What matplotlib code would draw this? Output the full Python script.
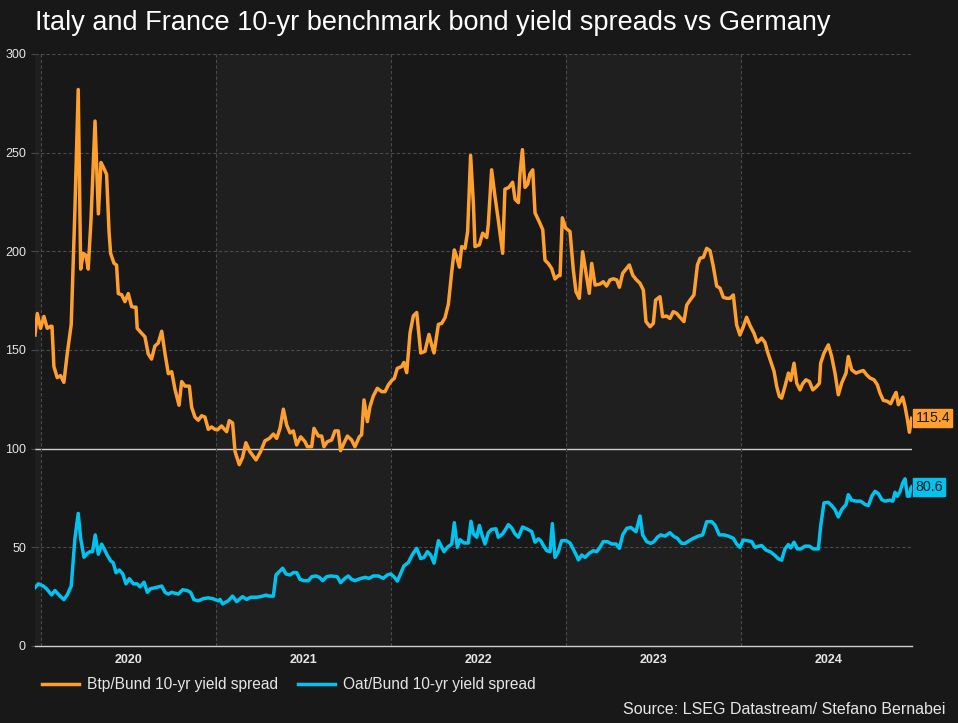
import matplotlib.pyplot as plt

# Colors
bg = "#181818"
band = "#1f1f1f"
orange = "#FF9F2E"
blue = "#00C3F0"
text_color = "#E6E6E6"
grid_color = "#4A4A4A"

# Data (time in decimal years)
btp_t = [2019.966, 2019.979, 2019.998, 2020.017, 2020.036, 2020.055, 2020.063, 2020.074, 2020.093,
         2020.112, 2020.131, 2020.150, 2020.173, 2020.194, 2020.213, 2020.227, 2020.242, 2020.257,
         2020.270, 2020.286, 2020.309, 2020.328, 2020.343, 2020.360, 2020.375, 2020.389, 2020.398,
         2020.417, 2020.432, 2020.442, 2020.461, 2020.480, 2020.499, 2020.518, 2020.531, 2020.543,
         2020.550, 2020.575, 2020.594, 2020.613, 2020.632, 2020.651, 2020.670, 2020.690, 2020.709,
         2020.728, 2020.747, 2020.766, 2020.789, 2020.804, 2020.823, 2020.848, 2020.861, 2020.880,
         2020.899, 2020.918, 2020.937, 2020.956, 2020.975, 2020.994,
         2021.008, 2021.032, 2021.061, 2021.076, 2021.095, 2021.109, 2021.133, 2021.152, 2021.171,
         2021.194, 2021.229, 2021.255, 2021.280, 2021.305, 2021.328, 2021.347, 2021.366, 2021.385,
         2021.404, 2021.423, 2021.442, 2021.461, 2021.484, 2021.509, 2021.522, 2021.547, 2021.560,
         2021.585, 2021.604, 2021.617, 2021.636, 2021.661, 2021.680, 2021.699, 2021.712, 2021.731,
         2021.751, 2021.775, 2021.794, 2021.819, 2021.832, 2021.846, 2021.865, 2021.880, 2021.899,
         2021.922, 2021.947, 2021.966, 2021.985, 2022.004, 2022.019, 2022.036,
         2022.061, 2022.074, 2022.090, 2022.109, 2022.128, 2022.147, 2022.170, 2022.194, 2022.217,
         2022.232, 2022.246, 2022.271, 2022.290, 2022.309, 2022.328, 2022.347, 2022.362, 2022.375,
         2022.391, 2022.404, 2022.423, 2022.438, 2022.455, 2022.471, 2022.480, 2022.505, 2022.524,
         2022.547, 2022.556, 2022.575, 2022.594, 2022.613, 2022.638, 2022.651, 2022.674, 2022.695,
         2022.709, 2022.728, 2022.737, 2022.751, 2022.766, 2022.781, 2022.794, 2022.810, 2022.823,
         2022.846, 2022.867, 2022.880, 2022.899, 2022.918, 2022.937, 2022.956, 2022.966, 2022.979,
         2022.998, 2023.023,
         2023.042, 2023.057, 2023.076, 2023.095, 2023.118, 2023.133, 2023.147, 2023.166, 2023.194,
         2023.213, 2023.232, 2023.251, 2023.271, 2023.290, 2023.305, 2023.324, 2023.347, 2023.362,
         2023.381, 2023.400, 2023.423, 2023.442, 2023.457, 2023.480, 2023.499, 2023.512, 2023.537,
         2023.552, 2023.575, 2023.594, 2023.613, 2023.632, 2023.651, 2023.674, 2023.690, 2023.709,
         2023.731, 2023.751, 2023.766, 2023.785, 2023.804, 2023.823, 2023.842, 2023.861, 2023.880,
         2023.899, 2023.918, 2023.937, 2023.956, 2023.975, 2023.994, 2024.013, 2024.032, 2024.051,
         2024.074, 2024.093,
         2024.118, 2024.137, 2024.151, 2024.170, 2024.189, 2024.204, 2024.219, 2024.232, 2024.251,
         2024.271, 2024.284, 2024.303, 2024.318, 2024.337, 2024.352, 2024.371, 2024.391, 2024.410,
         2024.429, 2024.448, 2024.455, 2024.474, 2024.499, 2024.518, 2024.537, 2024.556, 2024.575,
         2024.600, 2024.613, 2024.632, 2024.657, 2024.680, 2024.699, 2024.718, 2024.737, 2024.760,
         2024.779, 2024.794, 2024.813, 2024.836, 2024.855, 2024.874, 2024.886, 2024.899, 2024.924,
         2024.937, 2024.951, 2024.962, 2024.975]
btp = [157.6, 168.5, 161.0, 167.0, 161.0, 162.0, 162.0, 141.6, 136.0,
       137.0, 133.6, 148.0, 163.0, 221.0, 282.0, 191.0, 199.0, 198.0,
       191.0, 216.0, 266.0, 219.0, 245.0, 242.0, 239.0, 210.0, 199.0,
       194.0, 193.0, 178.6, 178.0, 174.5, 178.6, 172.0, 171.7, 171.7,
       161.0, 158.5, 156.7, 148.0, 145.4, 152.0, 153.5, 159.5, 148.0,
       138.0, 139.0, 130.0, 122.0, 134.0, 131.7, 131.7, 121.0, 116.0,
       114.4, 116.7, 116.0, 109.8, 111.0, 109.8,
       109.5, 111.5, 108.6, 114.2, 113.0, 98.5, 91.9, 95.6, 103.0,
       98.5, 94.3, 98.5, 104.0, 105.2, 107.4, 105.2, 110.3, 120.0,
       112.0, 108.0, 109.0, 101.9, 106.0, 103.5, 101.0, 101.0, 110.3,
       106.4, 106.4, 101.0, 103.5, 104.4, 109.0, 109.0, 99.0, 102.7,
       106.4, 104.4, 101.0, 106.0, 107.0, 124.7, 113.7, 121.3, 126.7,
       130.6, 128.9, 128.9, 132.3, 134.5, 135.6, 140.7,
       141.6, 143.7, 138.5, 158.7, 167.3, 169.0, 148.5, 149.3, 157.9,
       152.7, 148.5, 163.0, 163.5, 166.4, 173.3, 189.6, 200.7, 197.3,
       192.0, 202.4, 201.5, 210.0, 248.6, 223.8, 202.4, 203.3, 209.2,
       207.0, 213.5, 241.3, 228.0, 216.0, 199.0, 231.5, 232.4, 235.0,
       226.4, 224.7, 239.2, 251.5, 232.4, 234.0, 239.2, 241.3, 219.5,
       215.2, 211.0, 195.5, 193.8, 191.3, 186.0, 187.7, 187.7, 217.0,
       211.8, 210.0,
       190.5, 179.6, 176.2, 199.8, 187.2, 178.7, 193.9, 182.9, 183.4,
       184.6, 182.4, 185.5, 186.1, 185.5, 181.8, 188.9, 191.4, 193.1,
       188.0, 185.8, 183.8, 180.4, 164.4, 161.8, 163.5, 175.3, 177.0,
       166.9, 167.2, 166.0, 169.4, 168.6, 166.6, 164.4, 172.8, 175.3,
       177.9, 193.1, 196.5, 197.0, 201.5, 200.3, 192.2, 182.4, 181.3,
       176.7, 176.2, 176.2, 177.9, 162.7, 157.6, 161.8, 166.6, 162.5,
       158.5, 153.8,
       156.0, 153.8, 149.2, 144.2, 139.1, 131.5, 126.5, 125.6, 131.5,
       138.3, 134.6, 143.3, 133.2, 129.8, 132.8, 134.9, 134.0, 129.8,
       131.2, 133.2, 143.3, 148.4, 152.6, 146.7, 138.3, 127.3, 133.2,
       138.3, 146.7, 140.0, 138.3, 139.1, 139.6, 137.4, 135.8, 134.9,
       132.4, 128.2, 124.5, 124.0, 122.8, 126.5, 128.5, 122.3, 126.1,
       121.4, 114.7, 108.3, 115.4]

oat_t = [2019.966, 2019.985, 2020.013, 2020.032, 2020.061, 2020.080, 2020.109, 2020.131, 2020.150,
         2020.173, 2020.194, 2020.213, 2020.227, 2020.246, 2020.265, 2020.280, 2020.295, 2020.310,
         2020.328, 2020.347, 2020.366, 2020.379, 2020.398, 2020.413, 2020.429, 2020.448, 2020.467,
         2020.486, 2020.505, 2020.528, 2020.550, 2020.566, 2020.589, 2020.608, 2020.627, 2020.657,
         2020.690, 2020.709, 2020.728, 2020.747, 2020.785, 2020.810, 2020.836, 2020.855, 2020.874,
         2020.899, 2020.928, 2020.956, 2020.981, 2021.013,
         2021.023, 2021.038, 2021.071, 2021.095, 2021.118, 2021.152, 2021.175, 2021.198, 2021.232,
         2021.255, 2021.286, 2021.305, 2021.328, 2021.343, 2021.362, 2021.381, 2021.400, 2021.423,
         2021.442, 2021.461, 2021.480, 2021.503, 2021.528, 2021.547, 2021.571, 2021.591, 2021.610,
         2021.632, 2021.655, 2021.693, 2021.712, 2021.737, 2021.756, 2021.775, 2021.794, 2021.823,
         2021.851, 2021.876, 2021.899, 2021.928, 2021.956, 2021.979, 2021.998, 2022.017, 2022.036,
         2022.051, 2022.074, 2022.099, 2022.124, 2022.147, 2022.170, 2022.189, 2022.208, 2022.227,
         2022.246, 2022.271, 2022.290, 2022.303, 2022.322, 2022.347, 2022.362, 2022.379, 2022.394,
         2022.417, 2022.442, 2022.457, 2022.471, 2022.490, 2022.505, 2022.518, 2022.537, 2022.556,
         2022.575, 2022.600, 2022.613, 2022.638, 2022.651, 2022.671, 2022.690, 2022.709, 2022.728,
         2022.752, 2022.775, 2022.804, 2022.823, 2022.842, 2022.855, 2022.871, 2022.890, 2022.909,
         2022.922, 2022.937, 2022.956, 2022.975, 2023.000, 2023.023, 2023.046, 2023.065,
         2023.071, 2023.090, 2023.109, 2023.133, 2023.156, 2023.175, 2023.194, 2023.213, 2023.236,
         2023.261, 2023.286, 2023.305, 2023.324, 2023.347, 2023.370, 2023.400, 2023.423, 2023.438,
         2023.461, 2023.484, 2023.503, 2023.522, 2023.541, 2023.566, 2023.594, 2023.613, 2023.636,
         2023.661, 2023.680, 2023.705, 2023.728, 2023.756, 2023.781, 2023.804, 2023.832, 2023.851,
         2023.876, 2023.903, 2023.928, 2023.956, 2023.975, 2023.994, 2024.013, 2024.036, 2024.061,
         2024.080, 2024.105,
         2024.118, 2024.143, 2024.170, 2024.194, 2024.213, 2024.232, 2024.251, 2024.271, 2024.284,
         2024.303, 2024.322, 2024.341, 2024.366, 2024.391, 2024.413, 2024.442, 2024.455, 2024.474,
         2024.499, 2024.518, 2024.537, 2024.556, 2024.575, 2024.600, 2024.613, 2024.632, 2024.657,
         2024.684, 2024.709, 2024.728, 2024.747, 2024.766, 2024.785, 2024.804, 2024.823, 2024.851,
         2024.867, 2024.880, 2024.893, 2024.909, 2024.924, 2024.937, 2024.951, 2024.962, 2024.971,
         2024.975]
oat = [29.6, 31.5, 30.4, 29.0, 25.9, 28.1, 25.3, 23.5, 25.9,
       30.4, 54.4, 67.2, 54.4, 45.0, 46.9, 47.8, 47.8, 56.3,
       46.5, 51.6, 48.4, 46.0, 43.2, 42.2, 37.1, 38.5, 36.6,
       31.5, 34.1, 31.5, 31.5, 30.0, 32.3, 27.2, 29.1, 29.6,
       30.4, 27.2, 26.3, 27.2, 26.3, 28.5, 28.1, 27.2, 23.5,
       22.9, 24.0, 24.4, 24.0, 22.9,
       23.6, 21.3, 23.0, 25.3, 22.5, 25.0, 23.6, 24.7, 24.7,
       25.0, 25.8, 25.3, 25.3, 36.0, 37.7, 39.4, 36.5, 36.0,
       37.2, 37.2, 33.8, 33.1, 33.1, 35.1, 35.5, 34.8, 33.1,
       35.1, 35.5, 35.1, 32.1, 34.3, 35.5, 33.8, 33.1, 34.1,
       34.8, 34.3, 35.5, 35.5, 34.3, 36.0, 36.5, 35.1, 32.9,
       35.8, 40.6, 42.3, 46.6, 49.5, 44.3, 44.9, 47.8, 46.1,
       42.0, 53.4, 50.0, 47.8, 50.0, 51.7, 62.5, 50.0, 53.9,
       52.2, 52.2, 63.2, 56.8, 55.1, 61.1, 56.8, 51.7, 57.4,
       59.1, 59.4, 55.1, 56.8, 58.6, 61.5, 59.8, 56.8, 55.1,
       60.3, 59.4, 58.0, 52.6, 54.3, 53.4, 50.9, 48.3, 47.8,
       62.0, 44.9, 47.8, 53.4, 53.4, 52.2, 48.3, 44.9,
       43.6, 46.1, 44.9, 47.0, 48.3, 47.8, 50.0, 52.9, 52.9,
       51.7, 51.7, 49.5, 56.3, 59.6, 60.1, 57.9, 65.9, 56.3,
       52.9, 52.0, 52.9, 55.1, 56.3, 55.7, 57.4, 55.7, 54.6,
       52.0, 52.0, 53.4, 54.6, 55.7, 56.3, 63.0, 63.0, 61.3,
       56.3, 56.3, 55.7, 54.6, 51.7, 50.0, 53.7, 53.4, 52.9,
       50.0, 50.7,
       50.9, 48.6, 47.6, 45.9, 44.2, 43.5, 49.2, 51.4, 49.7,
       52.6, 49.2, 49.2, 50.6, 50.6, 49.2, 49.2, 60.7, 72.5,
       72.8, 71.2, 69.1, 65.4, 69.1, 71.7, 76.7, 73.9, 73.4,
       73.4, 71.7, 71.2, 75.9, 78.4, 77.2, 74.2, 73.4, 73.9,
       73.4, 77.9, 75.9, 78.4, 82.6, 84.7, 75.9, 75.9, 80.1,
       80.6]

years = [2020, 2021, 2022, 2023, 2024]
y_ticks = [0, 50, 100, 150, 200, 250, 300]

plt.rcParams["font.family"] = ["Liberation Sans", "DejaVu Sans"]

fig = plt.figure(figsize=(9.58, 7.23), dpi=100, facecolor=bg)
ax = fig.add_axes([35 / 958, 1 - 646 / 723, 877 / 958, 592 / 723])
ax.set_facecolor(bg)

x_min, x_max = btp_t[0], 2024.977
ax.set_xlim(x_min, x_max)
ax.set_ylim(0, 300)

# Alternating year bands
ax.axvspan(x_min, 2020, color=band, lw=0, zorder=0)
ax.axvspan(2021, 2022, color=band, lw=0, zorder=0)
ax.axvspan(2023, 2024, color=band, lw=0, zorder=0)

# Grid
for y in y_ticks[1:]:
    if y == 100:
        ax.axhline(y, color="#CFCFCF", lw=1.0, zorder=1)
    else:
        ax.axhline(y, color=grid_color, lw=0.8, ls=(0, (3, 2)), zorder=1)
for yr in years:
    ax.axvline(yr, color=grid_color, lw=0.8, ls=(0, (3, 2)), zorder=1)

# Lines
ax.plot(btp_t, btp, color=orange, lw=2.5, solid_joinstyle="round",
        label="Btp/Bund 10-yr yield spread", zorder=3)
ax.plot(oat_t, oat, color=blue, lw=2.5, solid_joinstyle="round",
        label="Oat/Bund 10-yr yield spread", zorder=3)

# Last value labels
for val, col in [(btp[-1], orange), (oat[-1], blue)]:
    ax.annotate(f"{val:.1f}", xy=(1.0, val), xycoords=("axes fraction", "data"),
                xytext=(2.5, 0), textcoords="offset points", ha="left", va="center",
                fontsize=10.3, color="#1A1A1A", annotation_clip=False,
                bbox=dict(boxstyle="square,pad=0.15", fc=col, ec=col))

# Axes styling
for side in ["top", "right", "left"]:
    ax.spines[side].set_visible(False)
ax.spines["bottom"].set_color("#CFCFCF")
ax.spines["bottom"].set_linewidth(1.0)

ax.set_yticks(y_ticks)
ax.tick_params(axis="y", colors=text_color, labelsize=9, length=3, color=grid_color)
ax.set_xticks([y + 0.5 for y in years])
ax.set_xticklabels([str(y) for y in years], fontweight="bold")
ax.tick_params(axis="x", colors=text_color, labelsize=9, length=0, pad=6)

# Title
fig.text(35 / 958, 1 - 23 / 723, "Italy and France 10-yr benchmark bond yield spreads vs Germany",
         color="white", fontsize=19.5, ha="left", va="center")

# Legend
leg = fig.legend(loc="center left", bbox_to_anchor=(28 / 958, 1 - 685 / 723), ncol=2,
                 frameon=False, fontsize=11.2, labelcolor=text_color, handlelength=2.4,
                 columnspacing=1.25, handletextpad=0.5)

# Source
fig.text(945 / 958, 1 - 709 / 723, "Source: LSEG Datastream/ Stefano Bernabei",
         color=text_color, fontsize=11.5, ha="right", va="center")

fig.savefig("out.png", dpi=100, facecolor=bg)
